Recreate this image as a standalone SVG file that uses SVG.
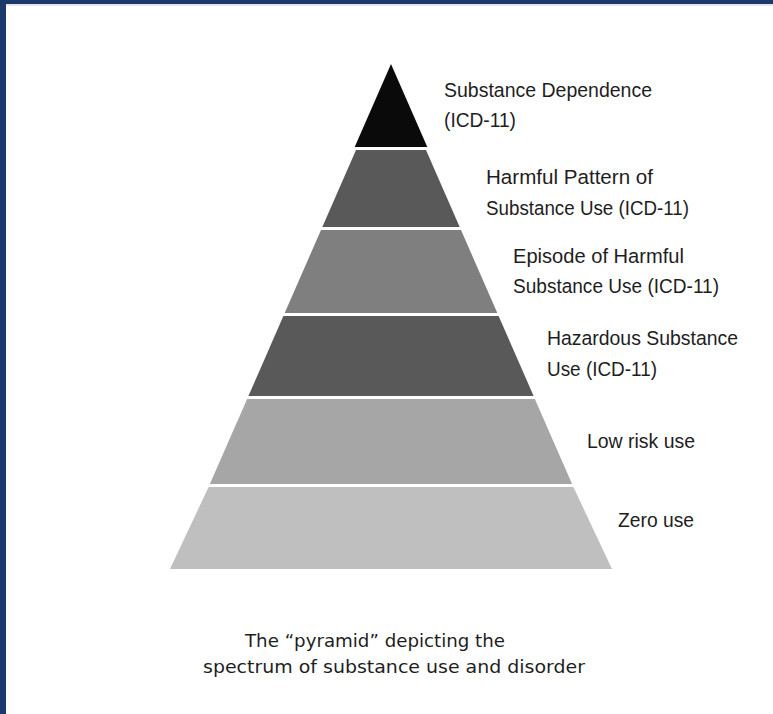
<svg xmlns="http://www.w3.org/2000/svg" width="773" height="714" viewBox="0 0 773 714">
<style>
.lbl{font-family:"Liberation Sans","Open Sans",sans-serif;font-size:20.5px;fill:#1e1e1e}
.cap{font-family:"DejaVu Sans","Liberation Sans",sans-serif;font-size:18.5px;fill:#1e1e1e}
</style>
<rect width="773" height="714" fill="#ffffff"/>
<rect x="0" y="4" width="773" height="2" fill="#e6e6e6"/>
<rect x="0" y="0" width="773" height="4" fill="#1b3a6b"/>
<rect x="0" y="0" width="6" height="714" fill="#1b3a6b"/>
<g id="level1"><polygon points="391,64 427.3,147 354.7,147" fill="#0a0a0a"/></g>
<g id="level2"><polygon points="356,150 426,150 459.7,227 322.3,227" fill="#595959"/></g>
<g id="level3"><polygon points="321,230 461,230 497.3,313 284.7,313" fill="#7f7f7f"/></g>
<g id="level4"><polygon points="283.4,316 498.6,316 533.6,396 248.4,396" fill="#595959"/></g>
<g id="level5"><polygon points="247.1,399 534.9,399 572.1,484 209.9,484" fill="#a6a6a6"/></g>
<g id="level6"><polygon points="208.6,487 573.4,487 612,569 170,569" fill="#bfbfbf"/></g>
<g id="labels">
<text class="lbl" x="444" y="97" textLength="208" lengthAdjust="spacingAndGlyphs">Substance Dependence</text>
<text class="lbl" x="444" y="127" textLength="72" lengthAdjust="spacingAndGlyphs">(ICD-11)</text>
<text class="lbl" x="486" y="184" textLength="167" lengthAdjust="spacingAndGlyphs">Harmful Pattern of</text>
<text class="lbl" x="486" y="215" textLength="203" lengthAdjust="spacingAndGlyphs">Substance Use (ICD-11)</text>
<text class="lbl" x="513" y="263" textLength="171" lengthAdjust="spacingAndGlyphs">Episode of Harmful</text>
<text class="lbl" x="513" y="293" textLength="206" lengthAdjust="spacingAndGlyphs">Substance Use (ICD-11)</text>
<text class="lbl" x="547" y="345" textLength="191" lengthAdjust="spacingAndGlyphs">Hazardous Substance</text>
<text class="lbl" x="547" y="376" textLength="110" lengthAdjust="spacingAndGlyphs">Use (ICD-11)</text>
<text class="lbl" x="587" y="448" textLength="108" lengthAdjust="spacingAndGlyphs">Low risk use</text>
<text class="lbl" x="618" y="527" textLength="76" lengthAdjust="spacingAndGlyphs">Zero use</text>
</g>
<g id="caption">
<text class="cap" x="245" y="647" textLength="260" lengthAdjust="spacingAndGlyphs">The “pyramid” depicting the</text>
<text class="cap" x="203" y="673" textLength="382" lengthAdjust="spacingAndGlyphs">spectrum of substance use and disorder</text>
</g>
</svg>
